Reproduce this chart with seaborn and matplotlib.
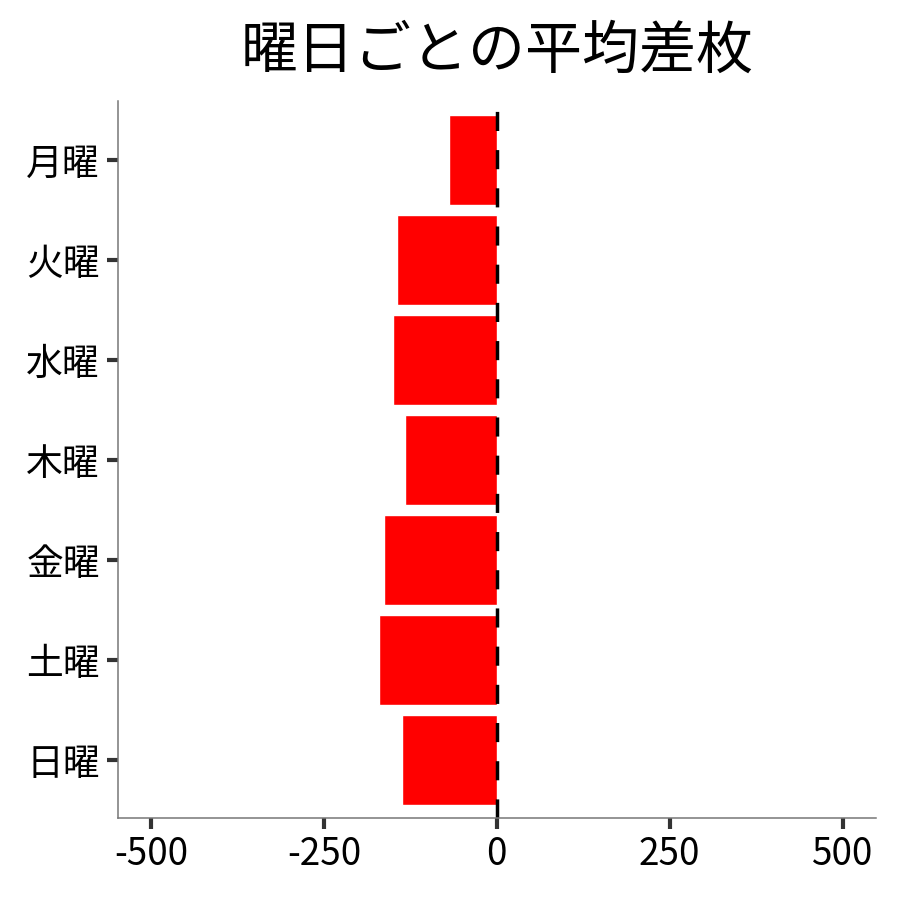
import matplotlib
matplotlib.use("Agg")
import matplotlib.pyplot as plt
import seaborn as sns
import pandas as pd

days = ["月曜", "火曜", "水曜", "木曜", "金曜", "土曜", "日曜"]
avg_diff = [-68.6, -143.8, -149.6, -132.2, -162.6, -169.8, -137.3]
xticks = [-500, -250, 0, 250, 500]

sns.set_theme(style="white")
plt.rcParams['font.family'] = ['Noto Sans CJK JP', 'DejaVu Sans']
plt.rcParams['axes.unicode_minus'] = False
plt.rcParams['text.color'] = 'black'

df = pd.DataFrame({"day": days, "diff": avg_diff})

fig = plt.figure(figsize=(9, 9), dpi=100)
ax = fig.add_axes([0.131, 0.0911, 0.842, 0.797])
sns.barplot(data=df, x="diff", y="day", orient="h", color="#ff0000",
            saturation=1, width=0.9, ax=ax)
ax.axvline(0, color="black", lw=2.5, linestyle=(0, (5.5, 5.5)))

ax.set_xlim(-548, 548)
ax.set_ylim(6.58, -0.59)
ax.set_xticks(xticks)
ax.set_xticklabels([str(v) for v in xticks])
ax.set_xlabel("")
ax.set_ylabel("")
ax.set_title("曜日ごとの平均差枚", fontsize=41, pad=24, color="black")

for s in ["top", "right"]:
    ax.spines[s].set_visible(False)
for s in ["left", "bottom"]:
    ax.spines[s].set_color("#777777")
    ax.spines[s].set_linewidth(1.1)

ax.tick_params(axis="both", which="major", labelsize=26.5, colors="#333333",
               labelcolor="black", length=8, width=3, direction="out",
               bottom=True, left=True)
ax.tick_params(axis="x", pad=4)
ax.tick_params(axis="y", pad=5)
ax.grid(False)

fig.savefig("out.png", dpi=100)
